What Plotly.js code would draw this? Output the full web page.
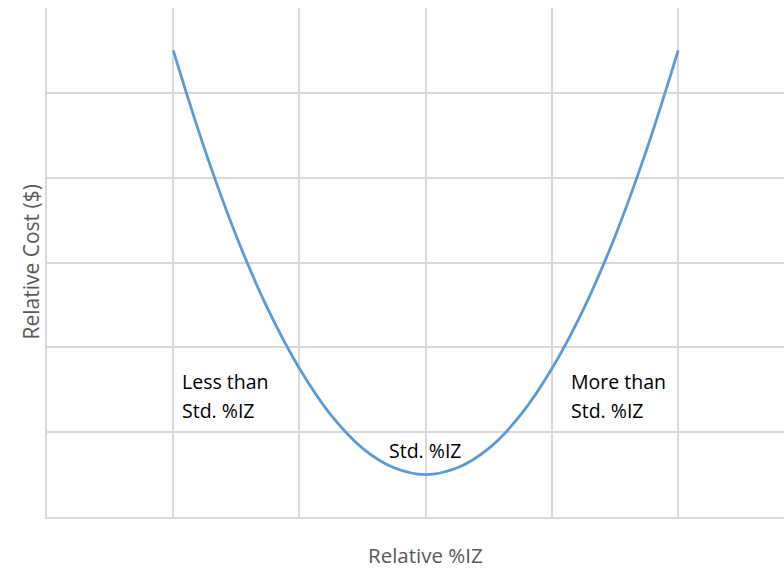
<!DOCTYPE html>
<html>
<head>
<meta charset="utf-8">
<script src="https://cdn.plot.ly/plotly-3.0.1.min.js"></script>
<style>html,body{margin:0;padding:0;background:#fff;}#chart{width:784px;height:568px;}</style>
</head>
<body>
<div id="chart"></div>
<script>
// Values
const relIZ   = [1.0, 1.25, 1.5,  1.75, 2.0,  2.25, 2.5,  2.75, 3.0, 3.25, 3.5,  3.75, 4.0,  4.25, 4.5,  4.75, 5.0];
const relCost = [5.5, 4.33, 3.31, 2.45, 1.75, 1.20, 0.81, 0.58, 0.5, 0.58, 0.81, 1.20, 1.75, 2.45, 3.31, 4.33, 5.5];

const xTitle = "Relative %IZ";
const yTitle = "Relative Cost ($)";
const labelLess = ["Less than", "Std. %IZ"];
const labelStd = "Std. %IZ";
const labelMore = ["More than", "Std. %IZ"];

const FONT = "'Open Sans', Lato, sans-serif";
const grid = "#d9d9d9";

const trace = {
  x: relIZ, y: relCost, type: "scatter", mode: "lines",
  line: {color: "#5b9bd5", width: 2.8, shape: "spline", smoothing: 1},
  hoverinfo: "skip", showlegend: false
};

function txt(x, y, t, anchor) {
  return {x: x, y: y, xref: "x", yref: "y", text: t, showarrow: false,
    xanchor: anchor || "left", yanchor: "middle", borderpad: 0,
    font: {family: FONT, size: 19.5, color: "#000000"}};
}

const annotations = [
  txt(1.06, 1.60, labelLess[0]), txt(1.06, 1.26, labelLess[1]),
  txt(2.70, 0.78, labelStd),
  txt(4.14, 1.60, labelMore[0]), txt(4.14, 1.26, labelMore[1]),
  {x: 3.0, y: 0, xref: "x", yref: "paper", yshift: -38, text: xTitle, showarrow: false,
   borderpad: 0, xanchor: "center", yanchor: "middle", font: {family: FONT, size: 20.5, color: "#595959"}},
  {x: 0, y: 0.5, xref: "paper", yref: "paper", xshift: -17, text: yTitle, showarrow: false,
   borderpad: 0, textangle: -90, xanchor: "center", yanchor: "middle", font: {family: FONT, size: 21, color: "#595959"}}
];

const layout = {
  width: 784, height: 568,
  margin: {l: 47, r: 0, t: 8, b: 51},
  paper_bgcolor: "#ffffff", plot_bgcolor: "#ffffff",
  xaxis: {range: [0, 5.838], tick0: 0, dtick: 1, showticklabels: false, ticks: "",
    showgrid: true, gridcolor: grid, gridwidth: 2, zeroline: false,
    showline: true, linecolor: grid, linewidth: 2, fixedrange: true},
  yaxis: {range: [0, 6], tick0: 0, dtick: 1, showticklabels: false, ticks: "",
    showgrid: true, gridcolor: grid, gridwidth: 2, zeroline: false,
    showline: true, linecolor: grid, linewidth: 2, fixedrange: true},
  annotations: annotations,
  showlegend: false
};

Plotly.newPlot("chart", [trace], layout, {displayModeBar: false, staticPlot: true});
</script>
</body>
</html>
